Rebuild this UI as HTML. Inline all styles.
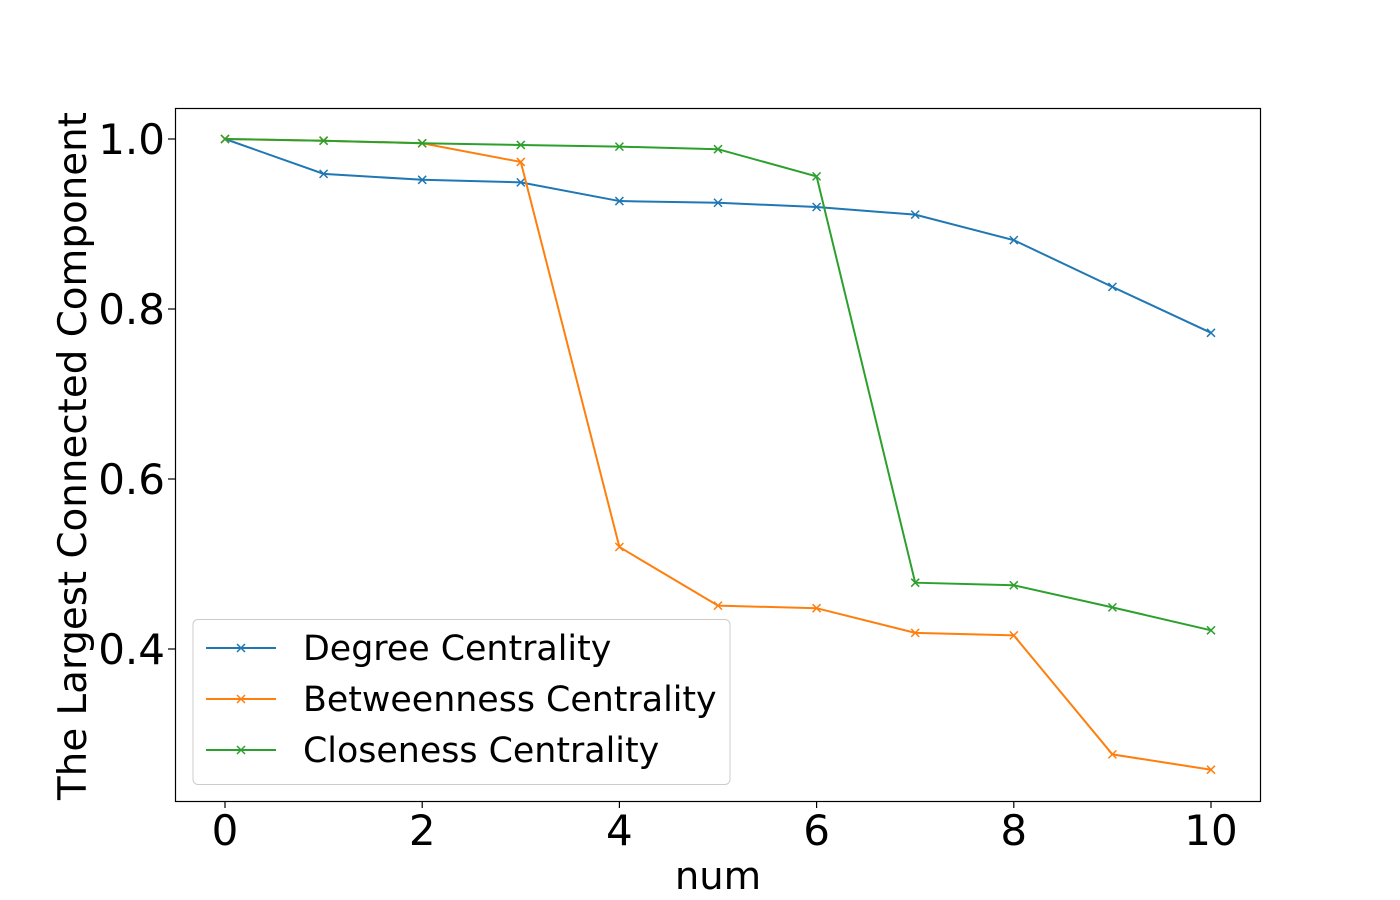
<!DOCTYPE html>
<html><head><meta charset="utf-8"><style>body{margin:0;background:#fff}svg{display:block;font-family:"DejaVu Sans","Liberation Sans",sans-serif}</style></head>
<body>
<svg id="chart" width="1400" height="900">
<rect x="175.5" y="108.5" width="1085" height="693" fill="none" stroke="#000" stroke-width="1.2"/>
<g id="ticks"></g><g id="series"></g>
<text x="718" y="889" font-size="38.5" text-anchor="middle">num</text>
<text transform="translate(86,456) rotate(-90)" font-size="38.8" text-anchor="middle">The Largest Connected Component</text>
<g>
<rect x="193" y="619.5" width="537" height="165" rx="5" fill="#fff" stroke="#ccc"/>
<g id="legend"></g>
</g>
</svg>
<script>
const xs=[0,1,2,3,4,5,6,7,8,9,10];
const degree=[1.0,0.959,0.952,0.949,0.927,0.925,0.920,0.911,0.881,0.826,0.772];
const betweenness=[1.0,0.998,0.995,0.973,0.52,0.451,0.448,0.419,0.416,0.276,0.258];
const closeness=[1.0,0.998,0.995,0.993,0.991,0.988,0.956,0.478,0.475,0.449,0.422];
const xTicks=[0,2,4,6,8,10];
const yTicks=[0.4,0.6,0.8,1.0];
const seriesNames=["Degree Centrality","Betweenness Centrality","Closeness Centrality"];
const NS="http://www.w3.org/2000/svg";
const X=v=>225+v*98.6, Y=v=>139+(1-v)*850;
function mk(t,a,p){const e=document.createElementNS(NS,t);for(const k in a)e.setAttribute(k,a[k]);p.appendChild(e);return e;}
const tg=document.getElementById('ticks');
xTicks.forEach(v=>{const x=X(v);
const l=mk('line',{x1:x,x2:x,y1:801,y2:808,stroke:'#000','stroke-width':1.2},tg);


const t=mk('text',{x:x,y:845,'font-size':42,'text-anchor':'middle'},tg);t.textContent=v;

});
yTicks.forEach(v=>{const y=Y(v);
const l=mk('line',{x1:168,x2:175,y1:y,y2:y,stroke:'#000','stroke-width':1.2},tg);


const t=mk('text',{x:165,y:y+15,'font-size':42,'text-anchor':'end'},tg);t.textContent=v.toFixed(1);

});
const sg=document.getElementById('series'),lg=document.getElementById('legend');
const colors=['#1f77b4','#ff7f0e','#2ca02c'];
function cross(x,y,c,p){mk('path',{d:`M${x-4},${y-4}L${x+4},${y+4}M${x-4},${y+4}L${x+4},${y-4}`,stroke:c,'stroke-width':1.5},p);}
[degree,betweenness,closeness].forEach((d,i)=>{
const g=mk('g',{},sg);


mk('polyline',{points:d.map((v,j)=>X(xs[j])+','+Y(v)).join(' '),fill:'none',stroke:colors[i],'stroke-width':2},g);
d.forEach((v,j)=>cross(X(xs[j]),Y(v),colors[i],g));
const ly=648+i*51;
const e=mk('g',{},lg);


mk('line',{x1:206,x2:276,y1:ly,y2:ly,stroke:colors[i],'stroke-width':2},e);
cross(241,ly,colors[i],e);
const t=mk('text',{x:303,y:ly+12,'font-size':34.8},e);t.textContent=seriesNames[i];
});
</script>
</body></html>
